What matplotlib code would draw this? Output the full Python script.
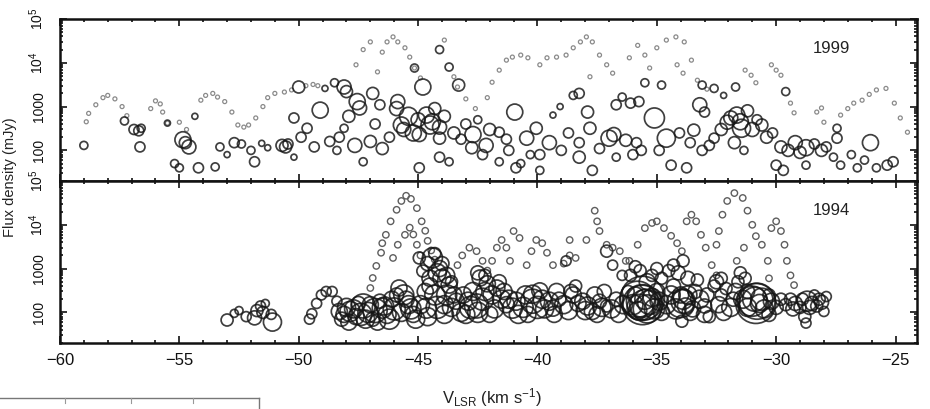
import matplotlib
matplotlib.use("Agg")
import matplotlib.pyplot as plt
from matplotlib.ticker import FixedLocator, LogLocator, NullFormatter, MultipleLocator
from matplotlib.lines import Line2D

plt.rcParams['font.family'] = ['Liberation Sans', 'DejaVu Sans']
plt.rcParams['mathtext.fontset'] = 'custom'
plt.rcParams['mathtext.rm'] = 'Liberation Sans'
plt.rcParams['mathtext.it'] = 'Liberation Sans:italic'

# ---------------- 1999 epoch ----------------
# spectral profile samples (velocity km/s, flux mJy)
prof99_v = [-58.9, -58.8, -58.5, -58.2, -58.0, -57.7, -57.4, -57.2,
            -56.2, -56.0, -55.8, -55.7, -55.5, -55.0, -54.7,
            -54.1, -53.9, -53.6, -53.4, -53.1, -52.8, -52.55, -52.3, -52.1, -51.8,
            -51.5, -51.3, -51.0, -50.6, -50.3, -49.7, -49.4, -49.2,
            -47.6, -47.3, -47.0, -46.7, -46.5, -46.3, -46.05, -45.85, -45.55, -45.35,
            -45.15, -44.9, -43.9, -43.5, -43.35, -43.0, -42.6,
            -42.1, -41.9, -41.6, -41.3, -41.05, -40.7, -40.4, -39.9, -39.6, -39.2,
            -38.8, -38.5, -38.2, -37.95, -37.7, -37.4, -37.1, -36.85, -37.8,
            -36.15, -35.8, -35.5, -35.3, -35.0, -34.6, -34.2, -33.85, -33.55, -34.15,
            -33.9, -33.3, -32.9,
            -31.3, -31.05, -30.85, -30.2, -30.0, -29.8, -29.4, -29.25,
            -28.3, -28.1, -28.0, -27.3, -27.0, -26.75, -26.4, -26.1, -25.8, -25.4,
            -25.05, -24.8, -24.5]
prof99_f = [450, 700, 1100, 1600, 1800, 1500, 1000, 620,
            900, 1350, 1150, 750, 420, 440, 300,
            1400, 1800, 2000, 1650, 1300, 750, 380, 340, 380, 550,
            1000, 1600, 2000, 2150, 2400, 3000, 3200, 3000,
            9000, 20000, 30000, 6200, 17500, 30000, 39000, 30000, 22000, 13500,
            7600, 4500, 33000, 4800, 2800, 1500, 900,
            1600, 3600, 6800, 11500, 13500, 15000, 13000, 9000, 13000, 13500,
            15000, 22000, 30000, 39000, 30000, 15000, 9000, 5800, 4800,
            13000, 25000, 15000, 7600, 22000, 33000, 39000, 30000, 11500, 9000,
            5800, 4000, 2500,
            6800, 5200, 3500, 9000, 6800, 5200, 1200, 720,
            750, 930, 440, 640, 900, 1200, 1400, 1900, 2400, 2600,
            1200, 550, 260]

# maser spots (velocity km/s, flux mJy, relative spot scale)
spot99_v = [-59.0, -57.3, -56.9, -56.7, -56.6, -56.65, -55.5, -54.35, -54.85, -54.6,
            -54.75, -55.2, -55.0, -54.2, -53.5, -53.0, -52.7, -52.4, -51.85, -51.55,
            -51.3, -50.7, -50.55, -50.45, -50.2, -50.2, -50.0, -49.65, -49.35, -49.1,
            -48.9, -48.5, -48.3, -48.4, -48.1, -48.0, -47.55, -47.45, -46.9, -46.6,
            -47.65, -48.1, -47.3, -46.5, -45.85, -45.7, -45.6, -44.8, -44.65, -44.5,
            -44.4, -44.95, -44.1, -44.1, -44.95, -44.1, -43.7, -43.3, -43.7, -44.1,
            -45.15, -42.7, -42.15, -42.75, -41.6, -41.6, -40.95, -40.45, -40.05, -39.5,
            -39.9, -40.9, -40.7, -39.9, -39.35, -39.05, -38.5, -38.25, -37.9, -37.8,
            -38.25, -38.25, -37.7, -37.0, -36.8, -36.7, -36.7, -36.45, -36.1, -35.75,
            -35.5, -35.1, -34.6, -34.05, -33.45, -33.2, -33.0, -35.85, -35.65, -34.4,
            -33.75, -33.1, -32.6, -32.05, -31.65, -31.45, -31.75, -31.35, -30.6, -30.15,
            -29.8, -30.0, -29.7, -29.2, -28.75, -28.1, -27.9, -27.45, -28.75, -27.3,
            -26.6, -26.05, -25.8, -25.35, -26.85, -27.45, -32.2, -32.6, -33.1, -34.8,
            -31.7, -29.6,
            -45.9, -45.4, -45.2, -45.0, -44.3, -43.9, -43.5, -43.2, -43.0, -42.5,
            -42.3, -42.0, -41.3, -41.2, -31.9, -31.5, -31.2, -31.0, -30.8, -30.4,
            -32.3, -32.8, -33.6, -34.9, -29.5, -29.0, -28.4, -27.6, -26.3, -25.1,
            -36.3, -36.0, -37.4, -38.7, -39.0, -40.3, -46.2, -46.8, -47.0, -47.9,
            -48.7, -49.9, -52.0, -53.3]
spot99_f = [130, 470, 300, 280, 320, 120, 420, 600, 175, 120,
            150, 50, 40, 40, 42, 80, 150, 140, 55, 145,
            115, 130, 120, 140, 70, 550, 2800, 320, 120, 830,
            2600, 3500, 200, 100, 2800, 2200, 1300, 930, 2000, 1100,
            130, 320, 55, 110, 1300, 380, 300, 2800, 640, 380,
            450, 230, 340, 190, 40, 70, 55, 3100, 8000, 20000,
            7600, 230, 130, 115, 260, 55, 750, 190, 320, 150,
            80, 40, 50, 35, 640, 1000, 1800, 2000, 750, 320,
            150, 70, 35, 190, 230, 70, 1100, 1650, 1200, 1300,
            3500, 550, 190, 250, 290, 1100, 750, 150, 100, 46,
            40, 100, 190, 440, 640, 320, 150, 100, 380, 250,
            120, 46, 35, 150, 115, 100, 120, 190, 46, 46,
            40, 150, 40, 46, 80, 320, 1800, 2600, 3100, 3100,
            2800, 2200,
            900, 600, 250, 500, 900, 600, 250, 180, 400, 500,
            80, 300, 180, 100, 550, 450, 800, 300, 500, 200,
            300, 130, 150, 100, 100, 90, 140, 70, 60, 55,
            170, 80, 110, 250, 100, 80, 200, 400, 160, 600,
            160, 200, 100, 120]
spot99_s = [4, 4, 5, 5, 4, 5, 3, 3, 8, 7,
            6, 4, 4, 5, 4, 3, 5, 4, 5, 3,
            3, 6, 6, 5, 3, 5, 6, 5, 5, 8,
            3, 4, 5, 4, 7, 6, 8, 7, 6, 5,
            7, 4, 4, 6, 7, 8, 7, 8, 8, 9,
            8, 7, 7, 6, 5, 5, 4, 6, 4, 4,
            4, 8, 7, 6, 5, 4, 8, 7, 6, 7,
            5, 5, 4, 4, 3, 3, 4, 5, 6, 6,
            5, 6, 5, 8, 7, 4, 5, 4, 5, 5,
            4, 10, 9, 5, 6, 7, 5, 5, 5, 5,
            5, 5, 5, 7, 8, 9, 6, 4, 6, 5,
            6, 5, 5, 7, 8, 6, 5, 5, 4, 4,
            4, 8, 4, 5, 4, 4, 3, 4, 4, 4,
            4, 4,
            7, 9, 8, 7, 6, 6, 6, 5, 5, 4,
            5, 6, 5, 5, 7, 8, 6, 7, 5, 6,
            6, 5, 5, 5, 6, 6, 5, 4, 4, 5,
            6, 5, 5, 5, 5, 4, 5, 5, 6, 6,
            5, 5, 4, 4]

# ---------------- 1994 epoch ----------------
prof94_v = [-47.0, -46.9, -46.75, -46.55, -46.5, -46.35, -46.15, -45.9, -45.7, -45.5,
            -45.3, -45.05, -44.85, -44.7, -44.6, -44.45, -44.3,
            -46.05, -45.85, -45.55, -45.35, -45.2, -45.05, -44.9,
            -43.35, -43.15, -42.85, -42.55, -42.3, -42.1,
            -41.9, -41.7, -41.5, -41.3, -41.15, -41.0, -40.75,
            -40.45, -40.25, -40.05, -39.8, -39.6, -39.35,
            -38.9, -38.65, -38.4, -38.65, -37.95, -37.6, -37.5, -37.4, -37.1, -36.85,
            -36.55, -36.3,
            -36.15, -35.8, -35.5, -35.2, -35.0, -34.7, -34.4, -34.15, -33.95,
            -33.75, -33.55, -33.35, -33.15, -32.95, -32.7, -32.5,
            -32.5, -32.4, -32.25, -32.05, -31.75, -31.4, -31.2, -31.0, -30.85, -30.6,
            -31.35, -31.65,
            -30.35, -30.3, -30.2, -30.0, -29.8, -29.65, -29.55, -29.4, -29.25]
prof94_f = [360, 610, 1150, 2300, 3800, 5900, 12000, 22000, 35000, 46000,
            39000, 24000, 12000, 7300, 4300, 2600, 1600,
            1750, 3500, 5900, 8600, 6000, 3500, 2000,
            1200, 2000, 3000, 2500, 1500, 900,
            1500, 3000, 4500, 3000, 1500, 7200, 5000,
            1200, 2500, 4500, 3800, 2300, 1200,
            1300, 2000, 1750, 4500, 4500, 21000, 12000, 7200, 3500, 3000,
            2500, 1500,
            1500, 3500, 8400, 11000, 12000, 8400, 5600, 3800, 2500,
            12000, 17000, 12000, 5900, 3000, 1200, 700,
            3500, 7200, 17000, 35000, 53000, 41000, 21000, 10000, 5500, 3500,
            3000, 1500,
            1500, 600, 8400, 12000, 7200, 3500, 1500, 700, 420]

spot94_v = [-53.0, -52.7, -52.2, -51.75, -51.5, -51.85, -51.1, -51.15, -51.6, -51.4,
            -52.5,
            -49.55, -49.45, -49.25, -49.05, -48.85, -48.6, -48.4, -48.3, -48.1, -48.0,
            -47.85, -47.6, -47.3, -47.1, -46.9, -46.5, -46.3, -46.1, -45.8, -45.6,
            -45.4, -45.2, -44.95, -44.8, -44.4, -44.1, -44.0, -44.65, -44.3, -44.5,
            -43.9, -43.7, -43.5, -43.2, -42.9, -42.55, -42.4, -42.2, -42.0, -41.7,
            -41.5, -41.3, -41.05, -40.8, -40.5, -40.2, -39.9, -39.7, -39.35, -39.1,
            -38.8, -38.5, -38.3, -38.0, -37.7, -37.4, -37.1, -37.1, -36.85, -36.45,
            -36.2, -36.0, -35.8, -35.6, -35.5, -35.3, -35.4, -35.0, -34.8, -34.5,
            -34.3, -34.0, -33.9, -33.95, -33.6, -33.4, -33.3, -33.0, -32.8, -32.6,
            -32.3, -32.1, -31.8, -31.6, -30.8, -30.9, -30.7, -31.2, -30.3, -30.3,
            -28.7, -28.5, -28.2, -28.0, -28.75, -29.0, -29.3, -29.6, -28.4,
            -48.2, -47.9, -47.7, -47.5, -47.4, -47.2, -47.0, -46.8, -46.7, -46.6,
            -46.4, -46.2, -46.0, -45.9, -45.7, -45.5, -45.3, -45.1, -44.9, -44.7,
            -44.6, -44.6, -44.3, -44.2, -44.0, -43.8, -43.6, -44.5,
            -44.2, -43.9, -43.8, -43.6, -43.4, -43.1, -43.0, -42.8, -42.7, -42.5,
            -42.3, -42.1, -41.9, -41.8, -41.6, -41.4, -41.2, -42.5, -42.2,
            -40.9, -40.6, -40.4, -40.2, -40.0, -39.8, -39.5, -39.3, -39.2, -38.9,
            -38.7, -38.6, -38.4,
            -38.1, -37.9, -37.6, -37.5, -37.3, -37.2, -36.9, -36.7, -36.6, -36.4,
            -35.6, -35.6, -35.7, -35.5, -35.8, -35.9, -35.4, -35.2, -35.1, -34.9,
            -34.8, -36.1, -35.9, -35.7, -35.2, -35.0,
            -34.6, -34.4, -34.2, -34.0, -33.9, -33.8, -33.7, -33.5, -33.2, -33.0,
            -32.9, -34.3, -34.1, -33.9, -33.7, -32.5, -32.3,
            -32.4, -32.2, -31.9, -31.7, -31.4, -31.2, -31.0, -30.85, -30.6, -30.5,
            -30.2, -30.0, -29.8, -31.5, -31.3,
            -29.4, -29.2, -28.9, -28.6, -28.3, -28.1, -27.9, -28.8]
spot94_f = [67, 95, 80, 110, 100, 75, 60, 90, 140, 160,
            110,
            70, 93, 160, 250, 300, 300, 180, 105, 90, 130,
            105, 80, 140, 100, 70, 125, 90, 200, 360, 250,
            150, 90, 1750, 880, 1750, 1000, 600, 125, 250, 400,
            150, 420, 250, 100, 180, 140, 610, 300, 90, 360,
            200, 150, 125, 90, 250, 180, 310, 120, 125, 200,
            1500, 250, 160, 110, 105, 180, 140, 2500, 1200, 700,
            300, 150, 200, 210, 150, 170, 500, 300, 600, 900,
            400, 250, 180, 63, 100, 300, 550, 140, 80, 400,
            250, 350, 200, 500, 180, 200, 160, 300, 250, 90,
            180, 160, 200, 105, 57, 130, 120, 150, 250,
            70, 60, 120, 160, 90, 70, 150, 110, 60, 180,
            140, 70, 120, 250, 100, 200, 120, 70, 150, 300,
            80, 1300, 2200, 800, 1300, 700, 500, 600,
            130, 90, 250, 130, 180, 250, 90, 130, 300, 100,
            200, 450, 250, 120, 500, 300, 200, 800, 700,
            180, 130, 90, 260, 130, 200, 180, 90, 300, 150,
            110, 300, 400,
            180, 140, 250, 90, 130, 300, 120, 200, 90, 150,
            150, 180, 130, 200, 110, 250, 120, 220, 120, 180,
            100, 700, 1100, 900, 700, 1000,
            150, 250, 120, 160, 200, 140, 250, 120, 200, 90,
            250, 1200, 800, 1500, 600, 500, 600,
            150, 100, 130, 300, 200, 130, 180, 160, 200, 120,
            180, 130, 200, 800, 600,
            200, 160, 200, 130, 140, 170, 230, 80]
spot94_s = [6, 4, 5, 6, 6, 7, 9, 5, 5, 4,
            4,
            5, 5, 5, 5, 5, 5, 5, 8, 8, 9,
            10, 8, 12, 10, 7, 10, 9, 8, 8, 10,
            9, 8, 6, 6, 10, 8, 9, 10, 10, 8,
            9, 8, 8, 9, 9, 12, 8, 9, 8, 8,
            9, 8, 10, 9, 9, 12, 8, 9, 8, 7,
            5, 8, 8, 9, 8, 7, 6, 6, 5, 5,
            6, 10, 18, 22, 15, 12, 8, 8, 6, 6,
            7, 8, 12, 6, 8, 7, 6, 7, 6, 6,
            6, 6, 7, 6, 18, 12, 9, 7, 6, 7,
            10, 7, 6, 5, 5, 6, 7, 6, 5,
            7, 8, 9, 7, 11, 9, 8, 12, 8, 7,
            9, 10, 11, 7, 9, 8, 10, 9, 9, 8,
            9, 7, 6, 9, 7, 8, 6, 8,
            11, 9, 10, 9, 8, 8, 9, 11, 9, 10,
            11, 8, 9, 9, 7, 8, 9, 7, 6,
            9, 10, 8, 9, 11, 9, 9, 8, 8, 9,
            9, 7, 6,
            8, 9, 8, 8, 9, 7, 9, 7, 8, 9,
            20, 16, 13, 10, 9, 8, 14, 9, 10, 9,
            8, 6, 6, 6, 6, 6,
            9, 9, 10, 14, 10, 8, 9, 8, 9, 8,
            7, 6, 7, 6, 7, 7, 6,
            8, 8, 9, 8, 9, 9, 15, 20, 11, 9,
            8, 7, 6, 6, 6,
            6, 7, 6, 7, 6, 7, 5, 6]

years = ['1999', '1994']
xlim = (-60, -24.1)
ylim = (20, 1e5)
ytick_vals = [100, 1000, 1e4, 1e5]
ytick_labels = ['100', '1000', r'$10^4$', r'$10^5$']

W, H = 930, 409
fig = plt.figure(figsize=(W / 100, H / 100), dpi=100)
left, right = 60 / W, 917 / W
ax_top = fig.add_axes([left, 1 - 181 / H, right - left, 162 / H])
ax_bot = fig.add_axes([left, 1 - 343 / H, right - left, 162 / H])

def r2s(r):
    return (1.44 * r) ** 2

panels = [
    (ax_top, prof99_v, prof99_f, spot99_v, spot99_f, spot99_s, 2.0, '#8a8a8a', 0.9),
    (ax_bot, prof94_v, prof94_f, spot94_v, spot94_f, spot94_s, 3.2, '#5e5e5e', 1.0),
]
for i, (ax, pv, pf, sv, sf, ss, pr, pc, plw) in enumerate(panels):
    ax.set_yscale('log')
    ax.scatter(pv, pf, s=r2s(pr), facecolors='none', edgecolors=pc, linewidths=plw, zorder=2)
    ax.scatter(sv, sf, s=[r2s(r) for r in ss], facecolors='none', edgecolors='#151515',
               linewidths=1.25, alpha=0.82, zorder=3)
    ax.set_xlim(*xlim)
    ax.set_ylim(*ylim)
    ax.xaxis.set_major_locator(MultipleLocator(5))
    ax.xaxis.set_minor_locator(MultipleLocator(1))
    ax.yaxis.set_major_locator(FixedLocator(ytick_vals))
    ax.set_yticklabels(ytick_labels)
    ax.yaxis.set_minor_locator(LogLocator(base=10, subs=range(2, 10)))
    ax.yaxis.set_minor_formatter(NullFormatter())
    ax.tick_params(which='both', direction='in', top=True, right=True, width=1.2, colors='#111')
    ax.tick_params(which='major', length=5)
    ax.tick_params(which='minor', length=2.5)
    ax.tick_params(axis='y', which='major', labelsize=10, pad=10)
    for lab in ax.get_yticklabels():
        lab.set_rotation(90)
        lab.set_va('center')
    for sp in ax.spines.values():
        sp.set_linewidth(1.8)
        sp.set_color('#111')
    ax.text(0.9, 0.82, years[i], transform=ax.transAxes, fontsize=12,
            color='#222', ha='center', va='center')

ax_top.tick_params(axis='x', labelbottom=False)
ax_bot.tick_params(axis='x', labelsize=12, pad=7)
ax_bot.set_xticks([-60, -55, -50, -45, -40, -35, -30, -25])
ax_bot.set_xticklabels(['\u221260', '\u221255', '\u221250', '\u221245', '\u221240',
                        '\u221235', '\u221230', '\u221225'])

fig.text(10 / W, 1 - 177 / H, 'Flux density (mJy)', rotation=90, fontsize=10.5,
         ha='center', va='center', color='#222')
fig.text(492 / W, 1 - 398 / H, r'V$_{\rm LSR}$ (km s$^{-1}$)', fontsize=12,
         ha='center', va='center', color='#222')

# faint edge of a neighbouring figure at the bottom left
fig.add_artist(Line2D([0, 259 / W], [1 - 398 / H, 1 - 398 / H], transform=fig.transFigure,
                      color='#777', lw=1))
for xt in [65, 131, 193]:
    fig.add_artist(Line2D([xt / W, xt / W], [1 - 398 / H, 1 - 403 / H],
                          transform=fig.transFigure, color='#999', lw=0.8))
fig.add_artist(Line2D([259 / W, 259 / W], [1 - 398 / H, 0], transform=fig.transFigure,
                      color='#777', lw=1))

fig.savefig('out.png', dpi=100)
